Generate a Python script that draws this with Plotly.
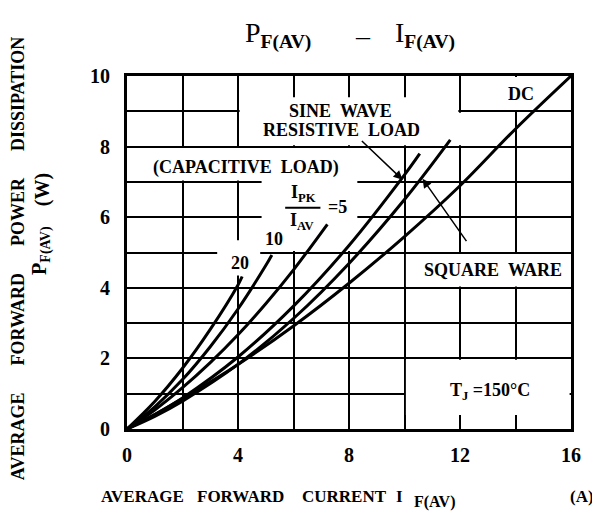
import plotly.graph_objects as go

# ---- data ----
dc_i = [0, 1, 2, 4, 6, 8, 10, 12, 14, 16]
dc_p = [0, 0.41, 0.86, 1.83, 2.92, 4.13, 5.45, 6.89, 8.5, 10.0]

square_i = [0, 1, 2, 4, 6, 8, 10, 11.65]
square_p = [0, 0.36, 0.79, 1.83, 3.13, 4.69, 6.5, 8.19]

sine_i = [0, 1, 2, 4, 6, 8, 10, 10.55]
sine_p = [0, 0.41, 0.88, 2.04, 3.48, 5.2, 7.2, 7.8]

cap5_i = [0, 1, 2, 3, 4, 5, 6, 7.22]
cap5_p = [0, 0.54, 1.17, 1.88, 2.67, 3.55, 4.51, 5.8]

cap10_i = [0, 1, 2, 3, 4, 5, 5.22]
cap10_p = [0, 0.63, 1.4, 2.33, 3.4, 4.63, 4.93]

cap20_i = [0, 1, 2, 3, 4, 4.15]
cap20_p = [0, 0.78, 1.72, 2.82, 4.08, 4.32]

x_ticks = [0, 4, 8, 12, 16]
y_ticks = [0, 2, 4, 6, 8, 10]

FONT = "Liberation Serif, Times New Roman, serif"
SP = "\u00a0"

fig = go.Figure()
for xs, ys in [(dc_i, dc_p), (square_i, square_p), (sine_i, sine_p),
               (cap5_i, cap5_p), (cap10_i, cap10_p), (cap20_i, cap20_p)]:
    fig.add_trace(go.Scatter(x=xs, y=ys, mode="lines",
                             line=dict(color="black", width=3, shape="spline"),
                             showlegend=False, hoverinfo="skip"))

# white label boxes that interrupt the grid
boxes = [
    (12.06, 15.95, 9.04, 9.97),   # DC
    (4.06, 11.94, 8.04, 9.40),    # sine wave label
    (11.90, 12.10, 8.04, 8.96),
    (0.04, 8.30, 7.04, 7.96),     # capacitive load
    (4.85, 8.30, 5.04, 7.96),     # ratio label
    (3.25, 4.80, 4.35, 5.35),     # "20"
    (10.05, 15.95, 4.04, 4.96),   # square ware
    (10.05, 15.95, 0.40, 1.96),   # Tj
]
for x0, x1, y0, y1 in boxes:
    fig.add_shape(type="rect", xref="x", yref="y", x0=x0, x1=x1, y0=y0, y1=y1,
                  fillcolor="white", line=dict(width=0), layer="between")

# fraction bar
fig.add_shape(type="line", xref="x", yref="y", x0=5.7, x1=6.97, y0=6.27, y1=6.27,
              line=dict(color="black", width=2), layer="above")

lab = dict(font=dict(family=FONT, size=18, color="black"), showarrow=False,
           xref="x", yref="y")
def txt(x, y, t, **kw):
    d = dict(lab)
    d.update(kw)
    fig.add_annotation(x=x, y=y, text=t, **d)

txt(14.2, 9.48, "<b>DC</b>")
txt(7.7, 9.0, "<b>SINE" + SP * 2 + "WAVE</b>")
txt(7.73, 8.48, "<b>RESISTIVE" + SP * 2 + "LOAD</b>")
txt(4.3, 7.4, "<b>(CAPACITIVE" + SP * 2 + "LOAD)</b>")
txt(6.35, 6.66, "<b>I<sub>PK</sub></b>")
txt(6.32, 5.88, "<b>I<sub>AV</sub></b>")
txt(7.6, 6.3, "<b>=5</b>")
txt(5.3, 5.39, "<b>10</b>")
txt(4.08, 4.71, "<b>20</b>")
txt(13.18, 4.51, "<b>SQUARE" + SP * 2 + "WARE</b>")
txt(13.07, 1.05, "<b>T<sub>J</sub> =150\u00b0C</b>")

# arrows
for hx, hy, tx, ty in [(9.93, 7.06, 8.41, 8.2), (10.65, 7.09, 12.27, 5.28)]:
    fig.add_annotation(x=hx, y=hy, ax=tx, ay=ty, xref="x", yref="y",
                       axref="x", ayref="y", text="", showarrow=True,
                       arrowhead=2, arrowsize=1.2, arrowwidth=1.5,
                       arrowcolor="black", standoff=0)

# titles (placed in paper coordinates of the plot area)
def pap(x, y, t, size, xanchor="center", angle=0):
    fig.add_annotation(x=x, y=y, text=t, xref="paper", yref="paper",
                       showarrow=False, xanchor=xanchor, yanchor="middle",
                       textangle=angle,
                       font=dict(family=FONT, size=size, color="black"))

pap(0.261, 1.116, "P<sub><b>F(AV)</b></sub>", 28, xanchor="left")
pap(0.532, 1.116, "\u2013", 28)
pap(0.599, 1.116, "I<sub><b>F(AV)</b></sub>", 28, xanchor="left")

xy = -0.19
pap(0.034, xy, "<b>AVERAGE</b>", 17)
pap(0.255, xy, "<b>FORWARD</b>", 17)
pap(0.489, xy, "<b>CURRENT</b>", 17)
pap(0.613, xy, "<b>I</b>", 17)
pap(0.642, xy - 0.018, "<b>F(AV)</b>", 16, xanchor="left")
pap(1.025, xy, "<b>(A)</b>", 17)

pap(-0.2455, 0.484,
    "<b>AVERAGE" + SP * 6 + "FORWARD" + SP * 6 + "POWER" + SP * 6 + "DISSIPATION</b>",
    18, angle=-90)
pap(-0.194, 0.507, "<b>P<sub>F(AV)</sub></b>", 20, angle=-90)
pap(-0.191, 0.677, "<b>(W)</b>", 20, angle=-90)

axis_common = dict(showline=True, linecolor="black", linewidth=3, mirror=True,
                   showgrid=True, gridcolor="black", gridwidth=2,
                   zeroline=False, ticks="",
                   tickfont=dict(family=FONT, size=20, color="black"))
fig.update_xaxes(range=[0, 16], tickvals=x_ticks,
                 ticktext=["<b>%d</b>" % v for v in x_ticks],
                 ticklabelstandoff=6,
                 minor=dict(tickvals=[2, 6, 10, 14], showgrid=True,
                            gridcolor="black", gridwidth=2, ticks=""),
                 **axis_common)
fig.update_yaxes(range=[0, 10], tickvals=y_ticks,
                 ticktext=["<b>%d</b>" % v for v in y_ticks],
                 ticklabelstandoff=10,
                 minor=dict(tickvals=[1, 3, 5, 7, 9], showgrid=True,
                            gridcolor="black", gridwidth=2, ticks=""),
                 **axis_common)

fig.update_layout(width=592, height=513, margin=dict(l=119, r=29, t=68, b=92),
                  paper_bgcolor="white", plot_bgcolor="white",
                  font=dict(family=FONT, color="black"))

fig.write_html("out.html")
